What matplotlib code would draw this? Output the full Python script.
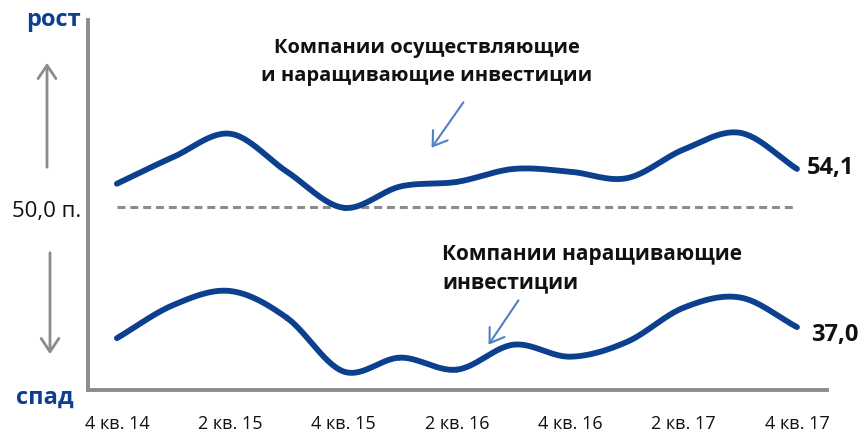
import numpy as np
import matplotlib
matplotlib.use("Agg")
import matplotlib.pyplot as plt

plt.rcParams['font.family'] = ['Open Sans', 'DejaVu Sans']

quarters = ["4 кв. 14", "1 кв. 15", "2 кв. 15", "3 кв. 15", "4 кв. 15", "1 кв. 16",
            "2 кв. 16", "3 кв. 16", "4 кв. 16", "1 кв. 17", "2 кв. 17", "3 кв. 17", "4 кв. 17"]
invest_all = [52.5, 55.4, 57.9, 53.8, 49.9, 52.2, 52.7, 54.1, 53.8, 53.1, 56.2, 58.0, 54.1]
invest_grow = [35.8, 39.4, 40.9, 38.0, 32.2, 33.7, 32.4, 35.1, 33.8, 35.4, 39.1, 40.2, 37.0]
baseline = 50.0
tick_labels = ["4 кв. 14", "2 кв. 15", "4 кв. 15", "2 кв. 16", "4 кв. 16", "2 кв. 17", "4 кв. 17"]

BLUE = "#0c3f8e"
LBLUE = "#4f81c2"
GRAY = "#8c8c8c"


def catmull_rom(x, y, n=30):
    x = np.asarray(x, float); y = np.asarray(y, float)
    px = np.concatenate([[2*x[0]-x[1]], x, [2*x[-1]-x[-2]]])
    py = np.concatenate([[2*y[0]-y[1]], y, [2*y[-1]-y[-2]]])
    xs, ys = [], []
    t = np.linspace(0, 1, n)
    for i in range(1, len(px)-2):
        p0, p1, p2, p3 = (np.array([px[j], py[j]]) for j in range(i-1, i+3))
        c = 0.5*(np.outer(2*np.ones_like(t), p1)
                 + np.outer(t, -p0+p2)
                 + np.outer(t**2, 2*p0-5*p1+4*p2-p3)
                 + np.outer(t**3, -p0+3*p1-3*p2+p3))
        xs.append(c[:, 0]); ys.append(c[:, 1])
    return np.concatenate(xs), np.concatenate(ys)


W, H = 866, 436
fig = plt.figure(figsize=(W/100, H/100), dpi=100)
ax = fig.add_axes([88/W, (H-390)/H, (827-88)/W, (390-20)/H])
ax.set_xlim(-0.51, 12.53)
ax.set_ylim(30.2, 70.2)

x = np.arange(len(quarters))
for s in (invest_all, invest_grow):
    sx, sy = catmull_rom(x, s)
    ax.plot(sx, sy, color=BLUE, lw=4.2, solid_capstyle='round', zorder=3)

ax.plot([x[0], x[-1]], [baseline, baseline], color=GRAY, lw=2.2,
        dashes=(2.6, 1.6), zorder=2)

for side in ('top', 'right'):
    ax.spines[side].set_visible(False)
for side in ('left', 'bottom'):
    ax.spines[side].set_color(GRAY)
    ax.spines[side].set_linewidth(2.8)

ax.set_yticks([])
ax.set_xticks(x[::2])
ax.set_xticklabels(tick_labels, fontsize=13, color="#111111")
ax.tick_params(axis='x', length=0, pad=18)

# end labels
ax.annotate(f"{invest_all[-1]:.1f}".replace('.', ','), (x[-1], invest_all[-1]),
            xytext=(7, -8), textcoords='offset points', fontsize=17, fontweight='bold',
            va='bottom', ha='left', color="#111111")
ax.annotate(f"{invest_grow[-1]:.1f}".replace('.', ','), (x[-1], invest_grow[-1]),
            xytext=(10, -14), textcoords='offset points', fontsize=17, fontweight='bold',
            va='bottom', ha='left', color="#111111")

# baseline label
fig.text(81/W, 1-211/H, "50,0 п.", fontsize=16, ha='right', va='center', color="#111111")

# side labels
fig.text(53/W, 1-20/H, "рост", fontsize=17, fontweight='bold', color=BLUE, ha='center', va='center')
fig.text(45/W, 1-398/H, "спад", fontsize=17, fontweight='bold', color=BLUE, ha='center', va='center')
fig.add_artist(matplotlib.patches.FancyArrowPatch((47/W, 1-170/H), (47/W, 1-60/H),
               transform=fig.transFigure, arrowstyle='->,head_length=6,head_width=4',
               color=GRAY, lw=2, mutation_scale=1.6))
fig.add_artist(matplotlib.patches.FancyArrowPatch((50/W, 1-250/H), (50/W, 1-357/H),
               transform=fig.transFigure, arrowstyle='->,head_length=6,head_width=4',
               color=GRAY, lw=2, mutation_scale=1.6))

# annotations
fig.text(427/W, 1-62/H, "Компании осуществляющие\nи наращивающие инвестиции", fontsize=14.5,
         fontweight='bold', ha='center', va='center', linespacing=1.5, color="#111111")
fig.add_artist(matplotlib.patches.FancyArrowPatch((465/W, 1-100/H), (430/W, 1-150/H),
               transform=fig.transFigure, arrowstyle='->,head_length=6,head_width=4',
               color=LBLUE, lw=1.5, mutation_scale=1.6))
fig.text(442/W, 1-269/H, "Компании наращивающие\nинвестиции", fontsize=15,
         fontweight='bold', ha='left', va='center', linespacing=1.45, color="#111111")
fig.add_artist(matplotlib.patches.FancyArrowPatch((520/W, 1-298/H), (487/W, 1-347/H),
               transform=fig.transFigure, arrowstyle='->,head_length=6,head_width=4',
               color=LBLUE, lw=1.5, mutation_scale=1.6))

fig.savefig("out.png", dpi=100)
